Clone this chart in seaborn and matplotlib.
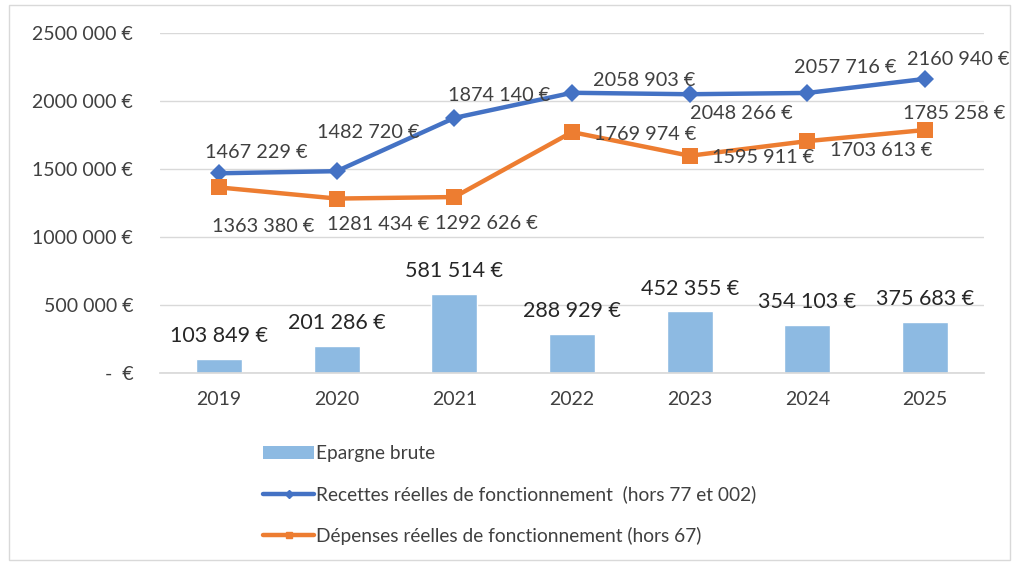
import matplotlib
matplotlib.use("Agg")
import matplotlib.pyplot as plt
import seaborn as sns
import pandas as pd
import numpy as np
from matplotlib.lines import Line2D
from matplotlib.patches import Patch, Rectangle

years = ["2019", "2020", "2021", "2022", "2023", "2024", "2025"]
epargne = [103849, 201286, 581514, 288929, 452355, 354103, 375683]
recettes = [1467229, 1482720, 1874140, 2058903, 2048266, 2057716, 2160940]
depenses = [1363380, 1281434, 1292626, 1769974, 1595911, 1703613, 1785258]
yticks = [0, 500000, 1000000, 1500000, 2000000, 2500000]
ytick_labels = ["-  €", "500 000 €", "1000 000 €", "1500 000 €", "2000 000 €", "2500 000 €"]
legend_labels = ["Epargne brute",
                 "Recettes réelles de fonctionnement  (hors 77 et 002)",
                 "Dépenses réelles de fonctionnement (hors 67)"]

# label offsets in points (display styling)
rec_off = [(27, 15), (23, 28), (32, 16), (52, 9), (37, -14), (27, 18), (24, 14)]
dep_off = [(32, -28), (30, -19), (23, -19), (53, -2), (53, -1), (53, -7), (21, 12)]

C_BAR = "#8DBAE2"
C_BLUE = "#4472C4"
C_ORANGE = "#ED7D31"

def fmt(v):
    s = f"{v:,}".replace(",", " ")
    parts = s.split(" ")
    if len(parts) == 3:
        s = parts[0] + parts[1] + " " + parts[2]
    return s + " €"

sns.set_theme(style="white")
plt.rcParams["font.family"] = ["Lato", "DejaVu Sans"]

df = pd.DataFrame({"year": years, "epargne": epargne,
                   "recettes": recettes, "depenses": depenses})

fig = plt.figure(figsize=(10.27, 5.65), dpi=100)
ax = fig.add_axes([0.156, 0.34, 0.802, 0.602])

sns.barplot(data=df, x="year", y="epargne", color=C_BAR, width=0.39,
            saturation=1, ax=ax, zorder=2)
sns.lineplot(data=df, x="year", y="recettes", color=C_BLUE, lw=3.2,
             marker="D", markersize=9, markeredgewidth=0, ax=ax, zorder=3, sort=False)
sns.lineplot(data=df, x="year", y="depenses", color=C_ORANGE, lw=3.2,
             marker="s", markersize=11, markeredgewidth=0, ax=ax, zorder=3, sort=False)

ax.set_ylim(0, 2500000)
ax.set_xlim(-0.5, 6.5)
ax.set_yticks(yticks)
ax.set_yticklabels(ytick_labels, fontsize=14, color="#404040")
ax.tick_params(axis="x", labelsize=14, colors="#404040", length=0, pad=13)
ax.tick_params(axis="y", length=0, pad=19.5)
ax.grid(axis="y", color="#D9D9D9", lw=1, zorder=0)
ax.set_axisbelow(True)
for s in ["top", "right", "left"]:
    ax.spines[s].set_visible(False)
ax.spines["bottom"].set_color("#D9D9D9")
ax.set_xlabel("")
ax.set_ylabel("")

for i, v in enumerate(epargne):
    ax.annotate(fmt(v), (i, v), xytext=(0, 9), textcoords="offset points",
                ha="center", va="bottom", fontsize=15.5, color="#262626")
for i, v in enumerate(recettes):
    ax.annotate(fmt(v), (i, v), xytext=rec_off[i], textcoords="offset points",
                ha="center", va="center", fontsize=14.3, color="#404040", zorder=5)
for i, v in enumerate(depenses):
    ax.annotate(fmt(v), (i, v), xytext=dep_off[i], textcoords="offset points",
                ha="center", va="center", fontsize=14.3, color="#404040", zorder=5)

handles = [Patch(facecolor=C_BAR, edgecolor="none"),
           Line2D([], [], color=C_BLUE, lw=3.2, marker="D", markersize=4),
           Line2D([], [], color=C_ORANGE, lw=3.2, marker="s", markersize=5)]
fig.legend(handles, legend_labels, loc="upper left", bbox_to_anchor=(0.239, 0.243),
           frameon=False, fontsize=13.8, labelspacing=1.22, handlelength=2.7,
           handletextpad=0.1, labelcolor="#404040")

fig.patches.append(Rectangle((9 / 1027, 5 / 565), 1001 / 1027, 555 / 565,
                             transform=fig.transFigure, fill=False,
                             edgecolor="#D9D9D9", lw=1))

fig.savefig("out.png", dpi=100)
